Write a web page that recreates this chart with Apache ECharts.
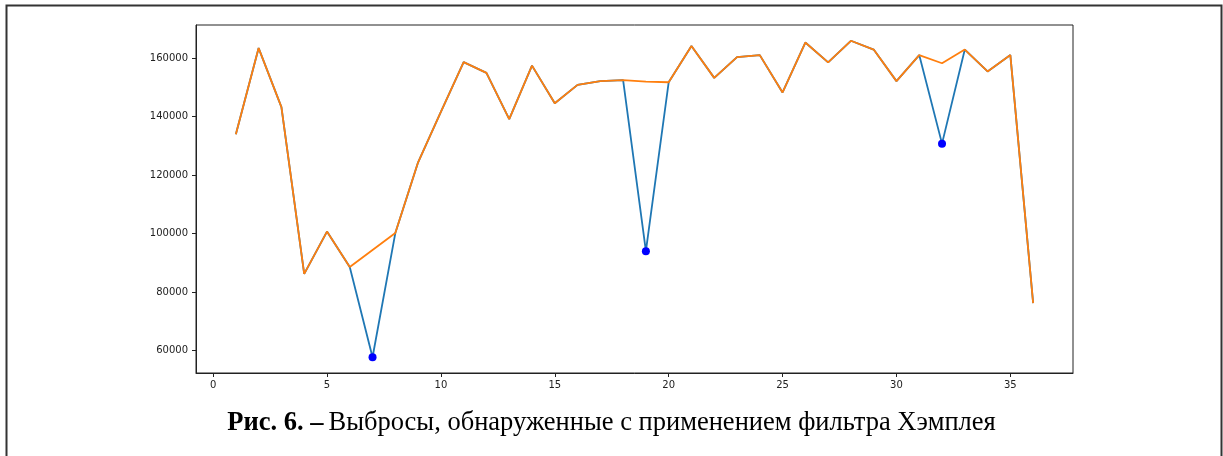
<!DOCTYPE html>
<html>
<head>
<meta charset="utf-8">
<script src="https://cdn.jsdelivr.net/npm/echarts@6/dist/echarts.min.js"></script>
<style>
  html, body { margin: 0; padding: 0; background: #fff; }
  #chart { width: 1223px; height: 456px; }
</style>
</head>
<body>
<div id="chart"></div>
<script>
// Sample numbers (x positions) 1..36
const steps = [1,2,3,4,5,6,7,8,9,10,11,12,13,14,15,16,17,18,19,20,21,22,23,24,25,26,27,28,29,30,31,32,33,34,35,36];

// Series after the Hampel filter
const filtered = [134000,163500,143300,86200,100700,88600,94400,100200,124400,141700,
                  158700,155000,139200,157500,144600,150900,152200,152500,152000,151800,
                  164200,153300,160400,161100,148300,165400,158600,166000,163000,152200,
                  161100,158300,163000,155500,161100,76200];

// Raw values at the points flagged as outliers
const outlierSteps = [7, 19, 32];
const outlierValues = [57700, 94000, 130800];

// Axis tick labels
const xTicks = [0, 5, 10, 15, 20, 25, 30, 35];
const yTicks = [60000, 80000, 100000, 120000, 140000, 160000];

// Raw series = filtered series with the outliers put back
const raw = filtered.map((v, i) => {
  const k = outlierSteps.indexOf(steps[i]);
  return k >= 0 ? outlierValues[k] : v;
});

const rawPts = steps.map((s, i) => [s, raw[i]]);
const filtPts = steps.map((s, i) => [s, filtered[i]]);
const outPts = outlierSteps.map((s, i) => [s, outlierValues[i]]);

const tickFont = { fontFamily: 'DejaVu Sans', fontSize: 10, color: '#222' };

const chart = echarts.init(document.getElementById('chart'), null, { renderer: 'canvas' });
chart.setOption({
  animation: false,
  backgroundColor: '#fff',
  title: {
    left: 'center',
    top: 405,
    text: '{b|Рис. 6. –} {n|Выбросы, обнаруженные с применением фильтра Хэмплея}',
    textStyle: {
      rich: {
        b: { fontFamily: 'Liberation Serif', fontWeight: 'bold', fontSize: 26.5, color: '#000' },
        n: { fontFamily: 'Liberation Serif', fontWeight: 'normal', fontSize: 26.5, color: '#000' }
      }
    }
  },
  graphic: [{
    type: 'rect',
    shape: { x: 6.5, y: 5.5, width: 1215, height: 470 },
    style: { fill: 'none', stroke: '#333', lineWidth: 2 },
    silent: true
  }],
  grid: {
    left: 196, right: 150, top: 25, bottom: 83,
    show: true, borderColor: '#222', borderWidth: 1, backgroundColor: '#fff'
  },
  xAxis: {
    type: 'value',
    min: -0.75, max: 37.75,
    axisLine: { show: true, onZero: false, lineStyle: { color: '#222', width: 1 } },
    axisTick: { show: true, inside: false, length: 4, customValues: xTicks, lineStyle: { color: '#222' } },
    axisLabel: Object.assign({ margin: 7, customValues: xTicks, formatter: v => String(v) }, tickFont),
    splitLine: { show: false }
  },
  yAxis: {
    type: 'value',
    min: 52300, max: 171400,
    axisLine: { show: true, onZero: false, lineStyle: { color: '#222', width: 1 } },
    axisTick: { show: true, inside: false, length: 4, customValues: yTicks, lineStyle: { color: '#222' } },
    axisLabel: Object.assign({ margin: 8, customValues: yTicks, formatter: v => String(v) }, tickFont),
    splitLine: { show: false }
  },
  series: [
    {
      name: 'raw', type: 'line', data: rawPts, symbol: 'none',
      lineStyle: { color: '#1f77b4', width: 1.8 }, z: 2
    },
    {
      name: 'filtered', type: 'line', data: filtPts, symbol: 'none',
      lineStyle: { color: '#ff7f0e', width: 1.8 }, z: 3
    },
    {
      name: 'outliers', type: 'scatter', data: outPts, symbolSize: 8,
      itemStyle: { color: '#0000ff', opacity: 1 }, z: 4
    }
  ]
});
</script>
</body>
</html>
